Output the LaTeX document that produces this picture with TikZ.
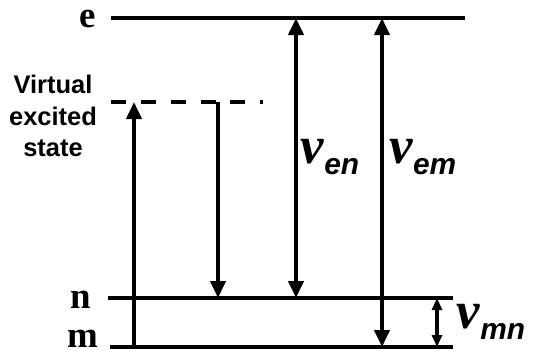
\documentclass[tikz,border=0pt]{standalone}
\usepackage{fontspec}
\setmainfont{Liberation Serif}
\newfontfamily\labfont{Liberation Sans}
\usetikzlibrary{arrows.meta}
\newcommand{\nulab}[1]{{\fontsize{30}{30}\selectfont\bfseries\itshape ν}\raisebox{-6pt}{\labfont\bfseries\itshape\fontsize{17}{17}\selectfont #1}}

\begin{document}
\begin{tikzpicture}[level/.style={line width=2.2pt},
  tip/.style={-{Triangle[width=0.3cm,length=0.34cm]}},
  both/.style={{Triangle[width=0.3cm,length=0.34cm]}-{Triangle[width=0.3cm,length=0.34cm]}},
  small/.style={{Triangle[width=0.2cm,length=0.24cm]}-{Triangle[width=0.2cm,length=0.24cm]}},
  lvl/.style={font=\fontsize{21}{21}\selectfont\bfseries,inner sep=0pt}]
\useasboundingbox (0,0) rectangle (10.74,-7.0);
% energy levels
\coordinate (eL) at (2.220,-0.360);
\coordinate (eR) at (9.300,-0.360);
\coordinate (vL) at (2.220,-2.040);
\coordinate (vR) at (5.260,-2.040);
\coordinate (nL) at (2.160,-5.960);
\coordinate (nR) at (9.060,-5.960);
\coordinate (mL) at (2.200,-6.940);
\coordinate (mR) at (9.060,-6.940);
\draw[level] (eL) -- (eR);
\draw[level,dash pattern=on 8.5pt off 8.5pt] (vL) -- (vR);
\draw[level] (nL) -- (nR);
\draw[level] (mL) -- (mR);
\node[lvl] (e) at (1.760,-0.380) {e};
\node[lvl] (n) at (1.620,-6.000) {n};
\node[lvl] (m) at (1.660,-6.780) {m};
\node[font=\labfont\bfseries\fontsize{14.5}{18}\selectfont,align=center,inner sep=0pt] (virt) at (1.060,-2.320) {Virtual\\excited\\state};
% transitions
\coordinate (pumpS) at (2.680,-6.940);
\coordinate (pumpE) at (2.680,-2.040);
\coordinate (stokS) at (4.360,-2.040);
\coordinate (stokE) at (4.360,-5.960);
\coordinate (enS) at (5.920,-5.960);
\coordinate (enE) at (5.920,-0.360);
\coordinate (emS) at (7.640,-6.940);
\coordinate (emE) at (7.640,-0.360);
\coordinate (mnS) at (8.740,-6.940);
\coordinate (mnE) at (8.740,-5.960);
\draw[level,tip] (pumpS) -- (pumpE);
\draw[level,tip] (stokS) -- (stokE);
\draw[level,both] (enS) -- (enE);
\draw[level,both] (emS) -- (emE);
\draw[level,small] (mnS) -- (mnE);
\node[inner sep=0pt] (nuen) at (6.600,-3.140) {\nulab{en}};
\node[inner sep=0pt] (nuem) at (8.460,-3.140) {\nulab{em}};
\node[inner sep=0pt] (numn) at (9.820,-6.440) {\nulab{mn}};
\end{tikzpicture}
\end{document}
